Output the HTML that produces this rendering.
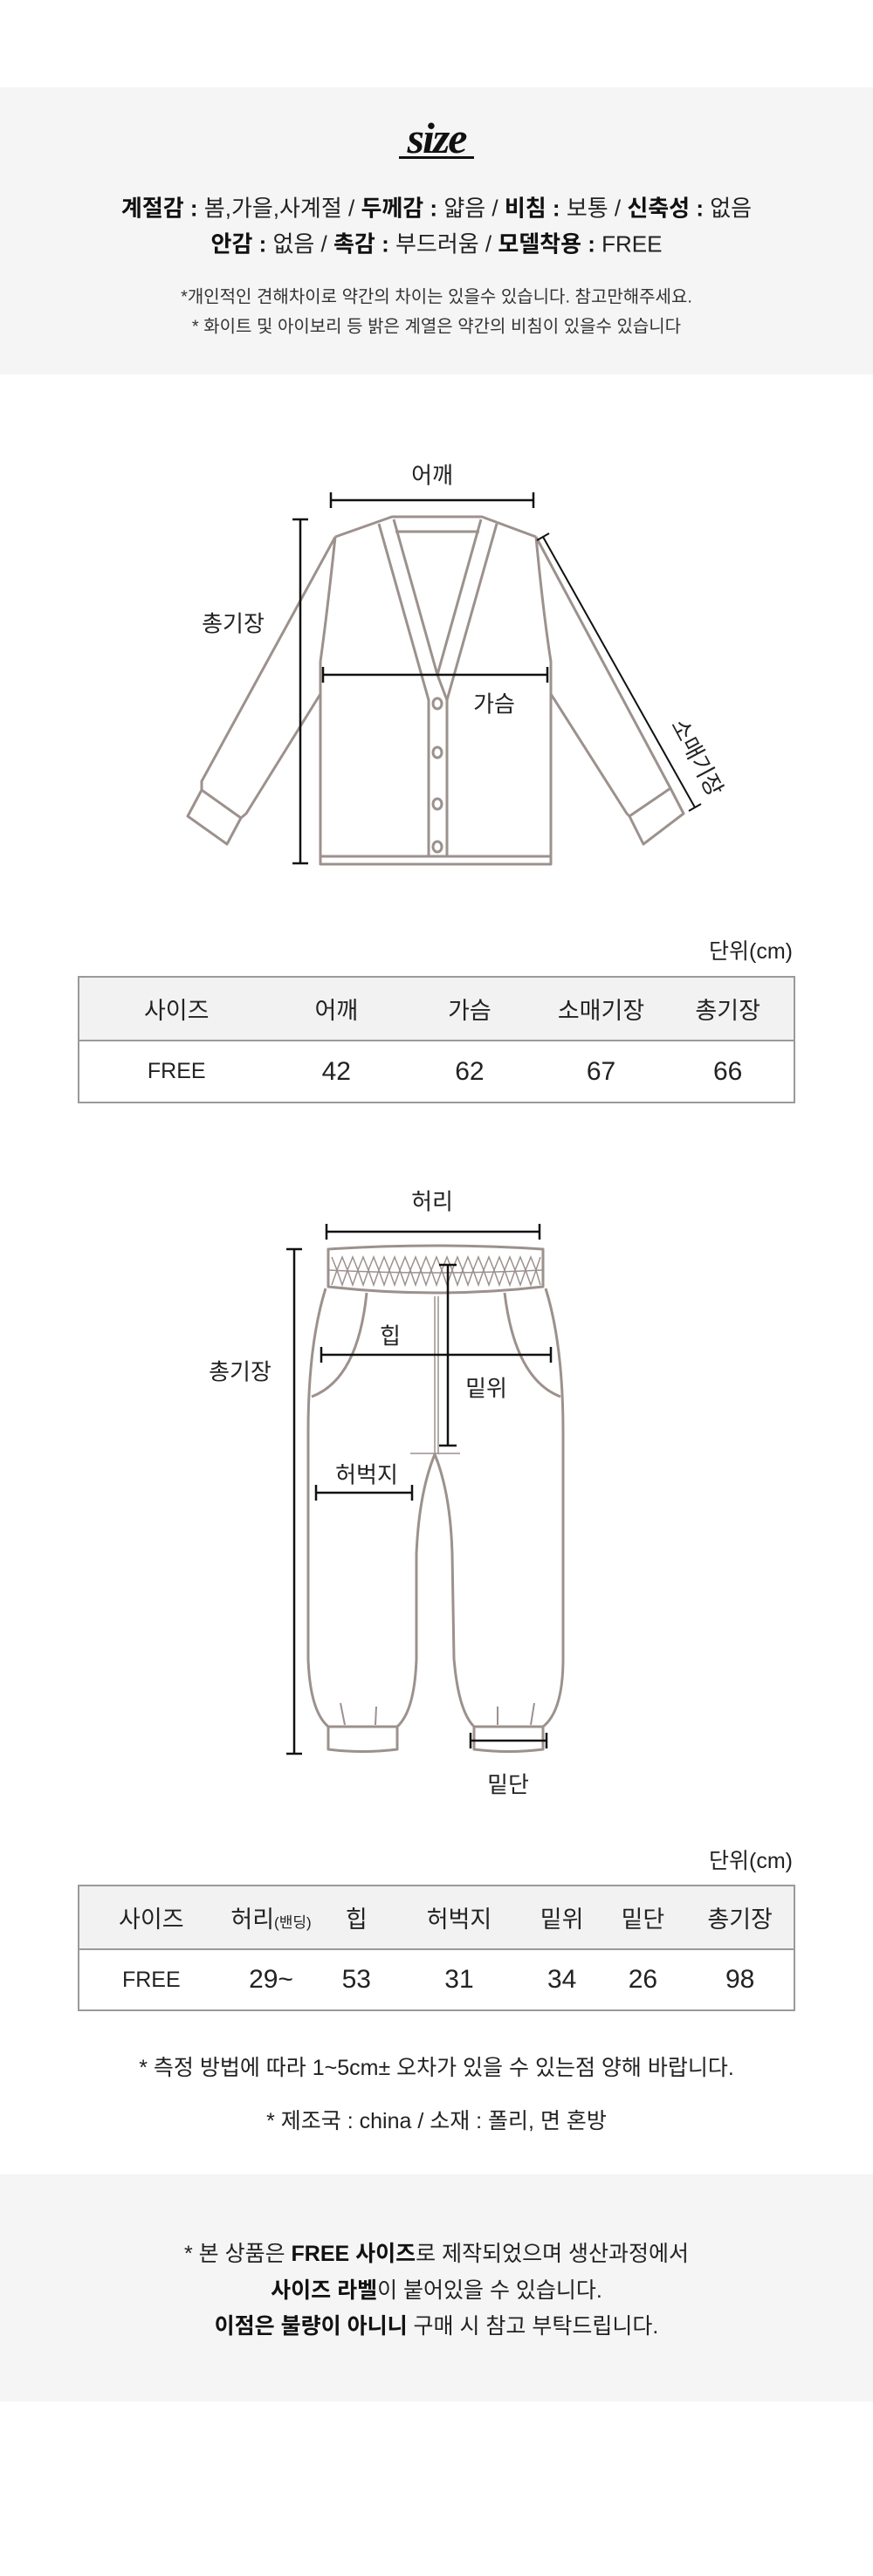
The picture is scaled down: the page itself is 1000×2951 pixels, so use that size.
<!DOCTYPE html>
<html><head><meta charset="utf-8"><style>
*{margin:0;padding:0;box-sizing:border-box}
body{width:1000px;height:2951px;background:#fff;position:relative;overflow:hidden;font-family:"Liberation Sans","Noto Sans CJK KR",sans-serif;color:#222}
.t{position:absolute;transform:translate(-50%,-50%);white-space:nowrap}
.r{position:absolute;white-space:nowrap;transform:translateY(-50%)}
.gray{position:absolute;left:0;width:1000px;background:#f5f5f5}
b{font-weight:700;color:#111}
table{position:absolute;left:89px;width:822px;border-collapse:collapse;border:2px solid #9a9a9a}
td{text-align:center;padding:0;vertical-align:middle}
tr.h td{background:#f2f2f2;border-bottom:2px solid #9a9a9a;font-size:27px}
tr.d td{font-size:30px}
</style></head><body>

<div class="gray" style="top:100px;height:329px"></div>
<div class="t" style="left:500px;top:158px;font-family:'Liberation Serif',serif;font-weight:700;font-style:italic;font-size:50px;color:#111;letter-spacing:-2px">size</div>
<div style="position:absolute;left:457px;top:179px;width:86px;height:3px;background:#111"></div>
<div class="t" style="left:500px;top:237px;font-size:26px"><b>계절감 :</b> 봄,가을,사계절 / <b>두께감 :</b> 얇음 / <b>비침 :</b> 보통 / <b>신축성 :</b> 없음</div>
<div class="t" style="left:500px;top:278px;font-size:26px"><b>안감 :</b> 없음 / <b>촉감 :</b> 부드러움 / <b>모델착용 :</b> FREE</div>
<div class="t" style="left:500px;top:338px;font-size:20px;color:#333">*개인적인 견해차이로 약간의 차이는 있을수 있습니다. 참고만해주세요.</div>
<div class="t" style="left:500px;top:372px;font-size:20px;color:#333">* 화이트 및 아이보리 등 밝은 계열은 약간의 비침이 있을수 있습니다</div>

<svg style="position:absolute;left:0;top:0" width="1000" height="2951" viewBox="0 0 1000 2951">
<g fill="none" stroke="#9c918d" stroke-width="3" stroke-linejoin="round">
<path d="M384 615 L449 592 L552 592 L614 615"/>
<path d="M384 615 Q375 700 367 758 L367 990 L631 990 L631 758 Q622 700 614 615"/>
<path d="M367 981 L631 981"/>
<path d="M384 615 L231 895 L231 905 L215 935 L260 967 L276 937 L282 932 L367 795"/>
<path d="M231 905 L276 937"/>
<path d="M614 615 L768 903 L783 932 L737 967 L721 935 L718 932 L631 795"/>
<path d="M768 903 L721 935"/>
<path d="M434 600 L491 802 L491 981"/>
<path d="M451 595 L501 773 L512 802"/>
<path d="M569 600 L512 802 L512 981"/>
<path d="M551 595 L501 773"/>
<path d="M453 609 L549 609"/>
<ellipse cx="501" cy="806" rx="5" ry="6"/>
<ellipse cx="501" cy="862" rx="5" ry="6"/>
<ellipse cx="501" cy="921" rx="5" ry="6"/>
<ellipse cx="501" cy="970" rx="5" ry="6"/>
</g>
<g fill="none" stroke="#111" stroke-width="2.5">
<path d="M379 573 L611 573 M379 564 L379 582 M611 564 L611 582"/>
<path d="M344 595 L344 989 M335 595 L353 595 M335 989 L353 989"/>
<path d="M370 773 L627 773 M370 764 L370 782 M627 764 L627 782"/>
<path d="M622 615 L796 925 M615 619 L629 611 M789 929 L803 921" stroke-width="2"/>
</g>

<!-- pants -->
<g fill="none" stroke="#9c918d" stroke-width="3" stroke-linejoin="round">
<path d="M376 1431 Q499 1423 622 1431 L622 1474 Q499 1488 376 1474 Z"/>
<path d="M373 1476 Q353 1540 353 1640 L353 1900 Q355 1960 376 1978 L455 1978 Q475 1960 477 1900 L477 1780 Q480 1710 498 1666 Q516 1710 518 1780 L520 1900 Q525 1960 543 1978 L622 1978 Q645 1960 645 1900 L645 1640 Q645 1540 625 1476"/>
<path d="M376 1978 L376 2004 Q415 2009 455 2004 L455 1978"/>
<path d="M543 1978 L543 2004 Q583 2009 622 2004 L622 1978"/>
<path d="M420 1481 Q410 1580 357 1600"/>
<path d="M578 1481 Q590 1580 642 1600"/>
<path d="M390 1951 L395 1976 M431 1955 L430 1976 M570 1955 L570 1976 M612 1951 L608 1976" stroke-width="2"/>
</g>
<g fill="none" stroke="#9c918d" stroke-width="1.5">
<path d="M498 1485 L498 1666 M502 1485 L502 1666 M470 1665 L527 1665"/>
<polyline points="380,1440 386,1455 392,1440 398,1455 404,1440 410,1455 416,1440 422,1455 428,1440 434,1455 440,1440 446,1455 452,1440 458,1455 464,1440 470,1455 476,1440 482,1455 488,1440 494,1455 500,1440 506,1455 512,1440 518,1455 524,1440 530,1455 536,1440 542,1455 548,1440 554,1455 560,1440 566,1455 572,1440 578,1455 584,1440 590,1455 596,1440 602,1455 608,1440 614,1455 619,1440"/>
<polyline points="380,1472 386,1455 392,1472 398,1455 404,1472 410,1455 416,1472 422,1455 428,1472 434,1455 440,1472 446,1455 452,1472 458,1455 464,1472 470,1455 476,1472 482,1455 488,1472 494,1455 500,1472 506,1455 512,1472 518,1455 524,1472 530,1455 536,1472 542,1455 548,1472 554,1455 560,1472 566,1455 572,1472 578,1455 584,1472 590,1455 596,1472 602,1455 608,1472 614,1455 619,1472"/>
<path d="M377 1455 Q499 1461 621 1455"/>
</g>
<g fill="none" stroke="#111" stroke-width="2.5">
<path d="M374 1411 L618 1411 M374 1402 L374 1420 M618 1402 L618 1420"/>
<path d="M337 1431 L337 2009 M328 1431 L346 1431 M328 2009 L346 2009"/>
<path d="M368 1552 L631 1552 M368 1543 L368 1561 M631 1543 L631 1561"/>
<path d="M513 1449 L513 1656 M503 1449 L523 1449 M503 1656 L523 1656"/>
<path d="M362 1710 L472 1710 M362 1701 L362 1719 M472 1701 L472 1719"/>
<path d="M539 1994 L626 1994 M539 1985 L539 2003 M626 1985 L626 2003"/>
</g>
</svg>

<div class="t" style="left:495px;top:543px;font-size:26px">어깨</div>
<div class="t" style="left:267px;top:713px;font-size:26px">총기장</div>
<div class="t" style="left:566px;top:805px;font-size:26px">가슴</div>
<div class="t" style="left:800px;top:867px;font-size:26px;transform:translate(-50%,-50%) rotate(62deg)">소매기장</div>

<div class="t" style="left:495px;top:1375px;font-size:26px">허리</div>
<div class="t" style="left:275px;top:1570px;font-size:26px">총기장</div>
<div class="t" style="left:447px;top:1529px;font-size:26px">힙</div>
<div class="t" style="left:557px;top:1589px;font-size:26px">밑위</div>
<div class="t" style="left:420px;top:1688px;font-size:26px">허벅지</div>
<div class="t" style="left:582px;top:2043px;font-size:26px">밑단</div>

<div class="r" style="right:92px;top:1088px;font-size:25px">단위(cm)</div>
<table style="top:1118px;height:144px">
<colgroup><col style="width:224px"><col style="width:144px"><col style="width:162px"><col style="width:140px"><col style="width:152px"></colgroup>
<tr class="h" style="height:73px"><td>사이즈</td><td>어깨</td><td>가슴</td><td>소매기장</td><td>총기장</td></tr>
<tr class="d" style="height:71px"><td style="font-size:25px">FREE</td><td>42</td><td>62</td><td>67</td><td>66</td></tr>
</table>

<div class="r" style="right:92px;top:2130px;font-size:25px">단위(cm)</div>
<table style="top:2159px;height:143px">
<colgroup><col style="width:166px"><col style="width:110px"><col style="width:86px"><col style="width:150px"><col style="width:86px"><col style="width:100px"><col style="width:124px"></colgroup>
<tr class="h" style="height:73px"><td>사이즈</td><td>허리<span style="font-size:17px">(밴딩)</span></td><td>힙</td><td>허벅지</td><td>밑위</td><td>밑단</td><td>총기장</td></tr>
<tr class="d" style="height:70px"><td style="font-size:25px">FREE</td><td>29~</td><td>53</td><td>31</td><td>34</td><td>26</td><td>98</td></tr>
</table>

<div class="t" style="left:500px;top:2367px;font-size:25px">* 측정 방법에 따라 1~5cm± 오차가 있을 수 있는점 양해 바랍니다.</div>
<div class="t" style="left:500px;top:2428px;font-size:25px">* 제조국 : china / 소재 : 폴리, 면 혼방</div>

<div class="gray" style="top:2491px;height:260px"></div>
<div class="t" style="left:500px;top:2580px;font-size:25px">* 본 상품은 <b>FREE 사이즈</b>로 제작되었으며 생산과정에서</div>
<div class="t" style="left:500px;top:2622px;font-size:25px"><b>사이즈 라벨</b>이 붙어있을 수 있습니다.</div>
<div class="t" style="left:500px;top:2663px;font-size:25px"><b>이점은 불량이 아니니</b> 구매 시 참고 부탁드립니다.</div>
</body></html>
